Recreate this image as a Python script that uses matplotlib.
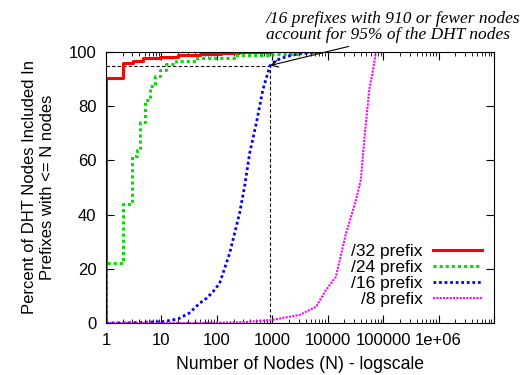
import numpy as np
import matplotlib
matplotlib.use('Agg')
from matplotlib import pyplot as plt
from matplotlib import ticker

# CDF of DHT nodes per prefix size
p32_n = [1, 1, 2.05, 3.1, 4.7, 9.4, 20, 49, 120, 250, 1000]
p32_pct = [0, 90.3, 96, 96.8, 97.7, 98.3, 98.8, 99.3, 99.7, 100, 100]

p24_n = [1, 1, 2.05, 3, 3.6, 4.1, 5, 6.2, 7.6, 9.4, 12, 18.7, 43, 200, 1000, 3100, 6000]
p24_pct = [0, 22, 44, 61.5, 64, 74, 82.3, 87.5, 91, 93.4, 95.6, 96.8, 97.7, 98.9, 99.4, 100, 100]

p16_n = [1, 3, 10.7, 20, 32, 49, 65, 85, 112, 170, 257, 316, 390, 515, 675, 910,
         1200, 1780, 3000, 7070]
p16_pct = [0, 0.1, 0.5, 1.5, 3.7, 7.3, 9.1, 11.5, 14.6, 25.7, 40.5, 50.3, 62.6, 73.7, 86, 95,
           97, 98.3, 99.3, 100]

p8_n = [1, 49, 300, 960, 3100, 6200, 9300, 14000, 21300, 32300, 39600, 45600, 56000,
        64000, 74000]
p8_pct = [0, 0, 0.3, 1.1, 3, 6, 12.2, 17, 33, 45.4, 52.8, 67.5, 86, 92, 100]

mark_n = 910
mark_pct = 95

x_ticks = [1, 10, 100, 1000, 10000, 100000, 1e6, 1e7]
x_ticklabels = ['1', '10', '100', '1000', '10000', '100000', '1e+06', '']

plt.rcParams['font.family'] = ['Liberation Sans', 'DejaVu Sans']
plt.rcParams['font.size'] = 12

fig = plt.figure(figsize=(5.24, 3.75), dpi=100)
ax = fig.add_axes([106 / 524, 1 - 323 / 375, 388 / 524, 271 / 375])

ax.plot([1, mark_n], [mark_pct, mark_pct], color='black', lw=0.8, ls=(0, (3, 2)))
ax.plot([mark_n, mark_n], [0, mark_pct], color='black', lw=0.8, ls=(0, (3, 2)))

ax.step(p32_n, p32_pct, where='post', color='#ff0000', lw=2.2, label='/32 prefix')
ax.step(p24_n, p24_pct, where='post', color='#00e000', lw=2.2, ls=(0, (1, 1)), label='/24 prefix')
ax.plot(p16_n, p16_pct, color='#0000ff', lw=2.0, ls=(0, (1, 1)), label='/16 prefix')
ax.plot(p8_n, p8_pct, color='#ff00ff', lw=1.5, ls=(0, (1, 0.6)), label='/8 prefix')

ax.set_xscale('log')
ax.set_xlim(1, 1e7)
ax.set_ylim(0, 100)
ax.xaxis.set_major_locator(ticker.FixedLocator(x_ticks))
ax.xaxis.set_major_formatter(ticker.FixedFormatter(x_ticklabels))
ax.xaxis.set_minor_locator(ticker.LogLocator(base=10, subs=np.arange(2, 10), numticks=20))
ax.xaxis.set_minor_formatter(ticker.NullFormatter())
ax.set_yticks([0, 20, 40, 60, 80, 100])
ax.tick_params(which='both', direction='in', top=True, right=True)
ax.tick_params(which='major', length=6, pad=7)
ax.tick_params(which='minor', length=3)

ax.set_xlabel('Number of Nodes (N) - logscale', fontsize=12.7, labelpad=6)
ax.set_ylabel('Percent of DHT Nodes Included In\nPrefixes with <= N nodes', labelpad=10)

ax.legend(loc='lower right', bbox_to_anchor=(0.995, 0.02), frameon=False, fontsize=12.5,
          markerfirst=False, handlelength=2.8, labelspacing=0.05, handletextpad=0.6,
          borderaxespad=0.2)

ax.annotate('/16 prefixes with 910 or fewer nodes\naccount for 95% of the DHT nodes',
            xy=(mark_n, mark_pct), xycoords='data',
            xytext=(266 / 524, 1 - 11 / 375), textcoords='figure fraction',
            ha='left', va='top', fontsize=12.5, family='Liberation Serif', style='italic',
            linespacing=1.0,
            arrowprops=dict(arrowstyle='->', color='black', lw=0.8,
                            relpos=(0.38, 0.0), shrinkA=2, shrinkB=0))

fig.savefig('out.png', dpi=100)
